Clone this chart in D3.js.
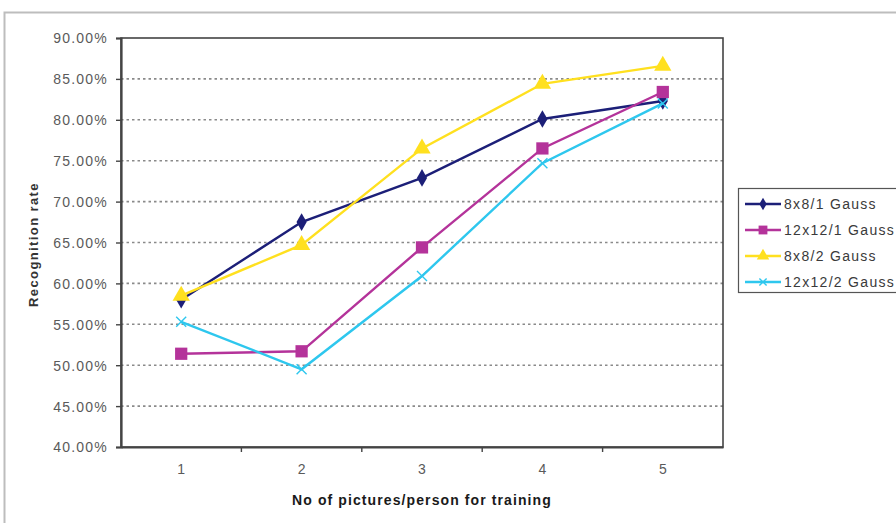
<!DOCTYPE html>
<html>
<head>
<meta charset="utf-8">
<script src="https://cdn.jsdelivr.net/npm/d3@7"></script>
<style>
  html, body { margin: 0; padding: 0; background: #fff; }
  svg { display: block; font-family: "Liberation Sans", Arial, sans-serif; }
</style>
</head>
<body>
<svg id="chart" width="896" height="523"></svg>
<script>
// Training pictures per person
const categories = ["1", "2", "3", "4", "5"];
// Recognition rates (%) for each model configuration
const seriesNames = ["8x8/1 Gauss", "12x12/1 Gauss", "8x8/2 Gauss", "12x12/2 Gauss"];
const gauss8x8_1 = [58.0, 67.5, 72.9, 80.1, 82.3];
const gauss12x12_1 = [51.4, 51.7, 64.4, 76.5, 83.4];
const gauss8x8_2 = [58.5, 64.7, 76.5, 84.4, 86.6];
const gauss12x12_2 = [55.3, 49.5, 60.9, 74.7, 82.0];
const yTicks = [40, 45, 50, 55, 60, 65, 70, 75, 80, 85, 90];

const seriesValues = [gauss8x8_1, gauss12x12_1, gauss8x8_2, gauss12x12_2];
const colors = ["#1c1f78", "#b4339a", "#ffe01f", "#2ec7ee"];
const shapes = [d3.symbolDiamond, d3.symbolSquare, d3.symbolTriangle, "x"];

const svg = d3.select("#chart");

// outer chart frame
svg.append("rect")
  .attr("x", 4.5).attr("y", 12.5).attr("width", 900).attr("height", 520)
  .attr("fill", "#fff").attr("stroke", "#bdbdbd").attr("stroke-width", 2);

const plot = { left: 121, top: 38, right: 723, bottom: 447 };

const x = d3.scaleBand().domain(categories).range([plot.left, plot.right]);
const y = d3.scaleLinear().domain([40, 90]).range([plot.bottom, plot.top]);

// dotted gridlines
svg.append("g").selectAll("line")
  .data(yTicks.filter(t => t > 40 && t < 90))
  .join("line")
  .attr("x1", plot.left).attr("x2", plot.right)
  .attr("y1", d => y(d)).attr("y2", d => y(d))
  .attr("stroke", "#8a8a8a").attr("stroke-width", 1.6)
  .attr("stroke-dasharray", "2.5,3");

// plot area border
svg.append("rect")
  .attr("x", plot.left).attr("y", plot.top)
  .attr("width", plot.right - plot.left).attr("height", plot.bottom - plot.top)
  .attr("fill", "none").attr("stroke", "#444").attr("stroke-width", 1.6);

// y axis
const yAxis = svg.append("g")
  .attr("transform", `translate(${plot.left},0)`)
  .call(d3.axisLeft(y).tickValues(yTicks).tickSize(5).tickPadding(8)
    .tickFormat(d => d.toFixed(2) + "%"));
yAxis.select(".domain").attr("stroke", "#444").attr("stroke-width", 2.2);
yAxis.selectAll(".tick line").attr("stroke", "#444").attr("stroke-width", 1.4);
yAxis.selectAll(".tick text").attr("fill", "#5a5a5a").attr("font-size", 14)
  .attr("letter-spacing", 1.2)
  .attr("dy", "0.35em");

// x axis: ticks sit between categories
const xAxis = svg.append("g")
  .attr("transform", `translate(0,${plot.bottom})`)
  .call(d3.axisBottom(x).tickSize(0).tickPadding(17));
xAxis.select(".domain").attr("stroke", "#444").attr("stroke-width", 2.2);
xAxis.selectAll(".tick text").attr("fill", "#5a5a5a").attr("font-size", 14);
xAxis.selectAll("line.sep")
  .data(categories.slice(1))
  .join("line").attr("class", "sep")
  .attr("x1", d => x(d)).attr("x2", d => x(d))
  .attr("y1", 0).attr("y2", 5)
  .attr("stroke", "#444").attr("stroke-width", 1.4);

// axis titles
svg.append("text")
  .attr("transform", `translate(38,${(plot.top + plot.bottom) / 2 + 2}) rotate(-90)`)
  .attr("text-anchor", "middle")
  .attr("font-size", 13).attr("font-weight", "bold").attr("fill", "#333")
  .attr("letter-spacing", 1.4)
  .text("Recognition rate");

svg.append("text")
  .attr("x", (plot.left + plot.right) / 2).attr("y", 505)
  .attr("text-anchor", "middle")
  .attr("font-size", 14).attr("font-weight", "bold").attr("fill", "#1a1a1a")
  .attr("letter-spacing", 1.1)
  .text("No of pictures/person for training");

const cx = c => x(c) + x.bandwidth() / 2;

function drawMarker(g, shape, color, size) {
  if (shape === "x") {
    const s = size;
    g.append("path")
      .attr("d", `M${-s},${-s}L${s},${s}M${-s},${s}L${s},${-s}`)
      .attr("stroke", color).attr("stroke-width", 1.4).attr("fill", "none");
  } else {
    const k = size / 5;
    const area = (shape === d3.symbolSquare ? 150 : shape === d3.symbolTriangle ? 130 : 90) * k * k;
    g.append("path")
      .attr("d", d3.symbol().type(shape).size(area)())
      .attr("fill", color);
  }
}

const line = d3.line().x((d, i) => cx(categories[i])).y(d => y(d));

seriesValues.forEach((vals, si) => {
  const g = svg.append("g");
  g.append("path")
    .datum(vals)
    .attr("d", line)
    .attr("fill", "none")
    .attr("stroke", colors[si]).attr("stroke-width", 2.4);
  vals.forEach((v, i) => {
    const m = g.append("g").attr("transform", `translate(${cx(categories[i])},${y(v)})`);
    drawMarker(m, shapes[si], colors[si], 5);
  });
});

// legend
const legend = svg.append("g");
legend.append("rect")
  .attr("x", 738.5).attr("y", 188.5).attr("width", 170).attr("height", 104)
  .attr("fill", "#fff").attr("stroke", "#555").attr("stroke-width", 1.2);
seriesNames.forEach((name, si) => {
  const ly = 204 + si * 26;
  const row = legend.append("g");
  row.append("line")
    .attr("x1", 745).attr("x2", 781).attr("y1", ly).attr("y2", ly)
    .attr("stroke", colors[si]).attr("stroke-width", 2.4);
  const m = row.append("g").attr("transform", `translate(763,${ly})`);
  drawMarker(m, shapes[si], colors[si], 3.6);
  row.append("text")
    .attr("x", 784).attr("y", ly).attr("dy", "0.35em")
    .attr("font-size", 14).attr("fill", "#3a3a3a")
    .attr("letter-spacing", 1.3)
    .text(name);
});
</script>
</body>
</html>
